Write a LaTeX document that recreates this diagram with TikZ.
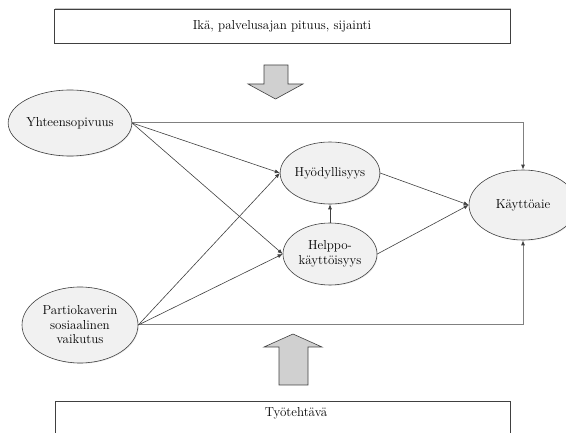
\documentclass[tikz,border=0pt]{standalone}
\usetikzlibrary{shapes.geometric,arrows.meta,shadows}
\definecolor{edgec}{HTML}{404040}
\definecolor{longc}{HTML}{808080}
\definecolor{efill}{HTML}{F1F1F1}
\definecolor{afill}{HTML}{D0D0D0}
\begin{document}
\begin{tikzpicture}[x=1pt,y=-1pt,
  txt/.style={font=\fontsize{13}{15}\selectfont, inner sep=0pt},
  ell/.style={ellipse, draw=edgec, line width=0.6pt, fill=efill, inner sep=0pt, align=center,
    font=\fontsize{13}{14.5}\selectfont,
    drop shadow={opacity=0.18, shadow xshift=0.8pt, shadow yshift=-0.8pt}},
  boxst/.style={draw=edgec, line width=0.8pt, fill=white},
  boxshadow/.style={drop shadow={opacity=0.45, shadow xshift=1.2pt, shadow yshift=1.2pt}},
  conn/.style={draw=edgec, line width=0.6pt, -{Latex[length=5pt,width=4pt]}},
  longconn/.style={draw=longc, line width=1pt, -{Latex[length=5pt,width=4pt,color=edgec]}},
  blockarrow/.style={draw=edgec, line width=0.6pt, fill=afill, line join=miter}
]
\useasboundingbox (0,0) rectangle (566,433);
% boxes
\node[boxst, boxshadow, txt, minimum width=456pt, minimum height=34pt] (topbox) at (282,26) {Ikä, palvelusajan pituus, sijainti};
\draw[boxst] (55,401) rectangle (510,445);
\node[txt] (botbox) at (296,413) {Työtehtävä};
% block arrows
\draw[blockarrow] (264,65) -- (288,65) -- (288,84) -- (303,84) -- (275.5,99) -- (248,84) -- (264,84) -- cycle;
\draw[blockarrow] (279,385) -- (308,385) -- (308,347) -- (322,347) -- (293,334) -- (264,347) -- (279,347) -- cycle;
% ellipses
\node[ell, minimum width=116pt, minimum height=66pt] (yh) at (70,123) {Yhteensopivuus};
\node[ell, minimum width=116pt, minimum height=76pt] (pa) at (80,325) {Partiokaverin\\sosiaalinen\\vaikutus};
\node[ell, minimum width=94pt, minimum height=62pt] (hy) at (330,173) {Hyödyllisyys};
\node[ell, minimum width=94pt, minimum height=62pt] (he) at (330,254) {Helppo-\\käyttöisyys};
\node[ell, minimum width=108pt, minimum height=70pt] (kay) at (523,205) {Käyttöaie};
% connectors
\draw[longconn] (yh.east) -| (kay.north);
\draw[longconn] (pa.east) -| (kay.south);
\draw[conn] (yh.east) -- (hy.west);
\draw[conn] (yh.east) -- (he.west);
\draw[conn] (pa.east) -- (hy.west);
\draw[conn] (pa.east) -- (he.west);
\draw[conn] (he.north) -- (hy.south);
\draw[conn] (hy.east) -- (kay.west);
\draw[conn] (he.east) -- (kay.west);
\end{tikzpicture}
\end{document}
